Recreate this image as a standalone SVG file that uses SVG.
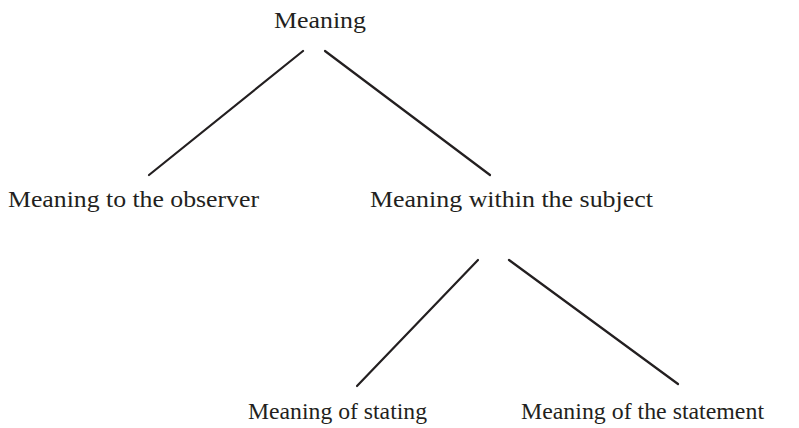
<svg xmlns="http://www.w3.org/2000/svg" width="799" height="428" viewBox="0 0 799 428">
<style>
text{font-family:'Liberation Serif','Tinos','Times New Roman',Times,serif;font-size:24px;fill:#231f20}
.c line{stroke:#231f20;stroke-width:2.2;stroke-linecap:round}
</style>
<rect width="799" height="428" fill="#fff"/>
<g class="c" id="connectors">
<line x1="303" y1="51" x2="149" y2="175"/>
<line x1="325" y1="51" x2="490" y2="175"/>
<line x1="478" y1="260" x2="357" y2="386"/>
<line x1="509" y1="260" x2="678" y2="384"/>
</g>
<g id="n-root"><text x="274" y="28" textLength="92" lengthAdjust="spacingAndGlyphs">Meaning</text></g>
<g id="n-observer"><text x="8" y="207" textLength="251" lengthAdjust="spacingAndGlyphs">Meaning to the observer</text></g>
<g id="n-subject"><text x="370" y="207" textLength="283" lengthAdjust="spacingAndGlyphs">Meaning within the subject</text></g>
<g id="n-stating"><text x="248" y="419" textLength="179" lengthAdjust="spacingAndGlyphs">Meaning of stating</text></g>
<g id="n-statement"><text x="521" y="419" textLength="243" lengthAdjust="spacingAndGlyphs">Meaning of the statement</text></g>
</svg>
